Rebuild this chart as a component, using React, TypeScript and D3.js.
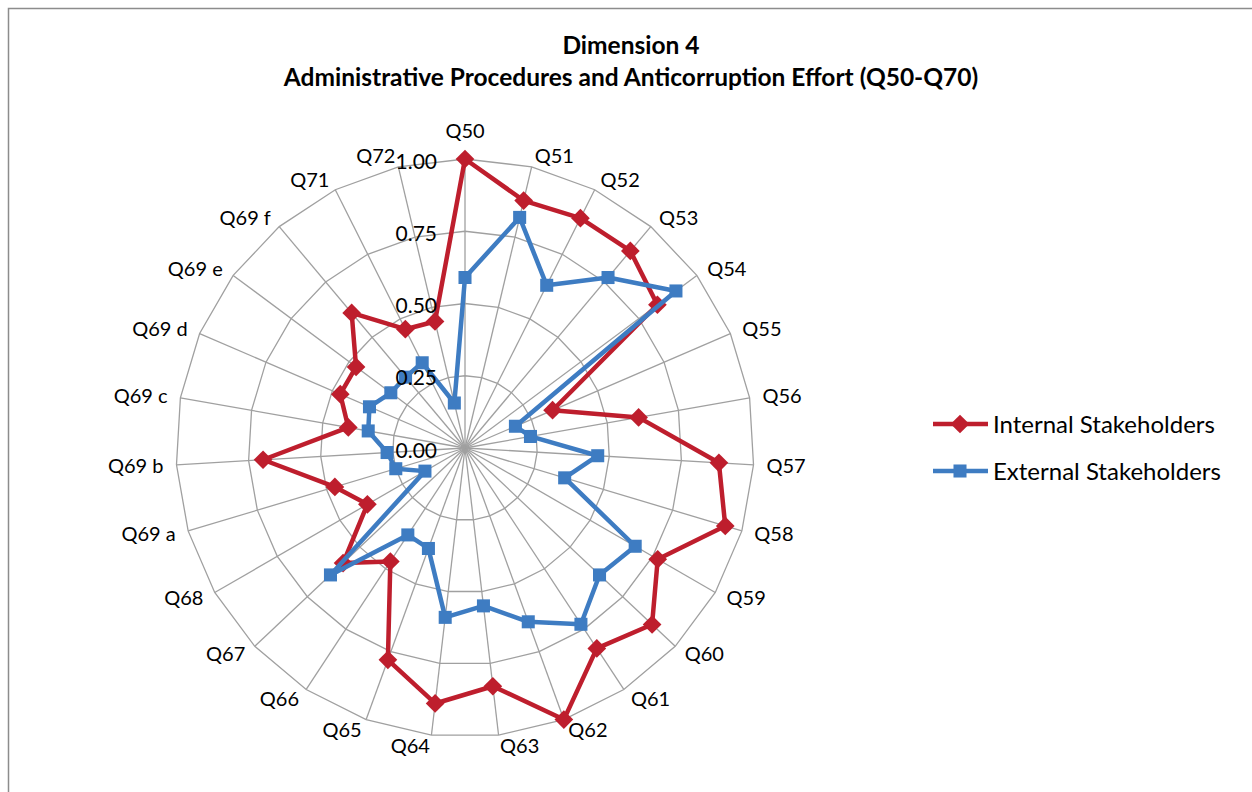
import React from "react";
import * as d3 from "d3";

const categories = [
  "Q50", "Q51", "Q52", "Q53", "Q54", "Q55", "Q56", "Q57", "Q58", "Q59",
  "Q60", "Q61", "Q62", "Q63", "Q64", "Q65", "Q66", "Q67", "Q68",
  "Q69 a", "Q69 b", "Q69 c", "Q69 d", "Q69 e", "Q69 f", "Q71", "Q72",
];

const internalValues = [
  1.0, 0.88, 0.89, 0.89, 0.83, 0.33, 0.61, 0.88, 0.94, 0.77,
  0.89, 0.83, 1.0, 0.83, 0.89, 0.78, 0.47, 0.58, 0.39,
  0.47, 0.7, 0.41, 0.47, 0.47, 0.61, 0.46, 0.45,
];

const externalValues = [
  0.59, 0.82, 0.63, 0.77, 0.91, 0.19, 0.23, 0.46, 0.36, 0.68,
  0.64, 0.73, 0.64, 0.55, 0.59, 0.37, 0.36, 0.64, 0.16,
  0.25, 0.27, 0.34, 0.36, 0.32, 0.32, 0.33, 0.16,
];

const tickValues = [0, 0.25, 0.5, 0.75, 1.0];
const tickLabels = ["0.00", "0.25", "0.50", "0.75", "1.00"];

const seriesNames = ["Internal Stakeholders", "External Stakeholders"];
const seriesColors = ["#BE1E2D", "#3E7CC2"];

const titleLines = [
  "Dimension 4",
  "Administrative Procedures and Anticorruption Effort (Q50-Q70)",
];

const W = 1252;
const H = 792;
const CX = 465;
const CY = 448;
const R = 289;
const FONT = "Lato, 'Open Sans', sans-serif";

export default function App() {
  const n = categories.length;
  const rScale = d3.scaleLinear().domain([0, 1]).range([0, R]);
  const angle = (i: number) => (i * 2 * Math.PI) / n;
  const pt = (i: number, v: number): [number, number] => {
    const a = angle(i);
    return [CX + rScale(v) * Math.sin(a), CY - rScale(v) * Math.cos(a)];
  };

  const ringPath = (v: number) => {
    const pts = categories.map((_, i) => pt(i, v));
    return d3.line()(pts.concat([pts[0]])) as string;
  };

  const radial = d3
    .lineRadial<number>()
    .angle((_, i) => angle(i))
    .radius((v) => rScale(v))
    .curve(d3.curveLinearClosed);

  const squarePath = d3.symbol(d3.symbolSquare, 170)() as string;
  const diamondPath = d3.symbol(d3.symbolSquare, 175)() as string;

  const marker = (s: number, x: number, y: number, key: string) =>
    s === 0 ? (
      <path key={key} d={diamondPath} transform={`translate(${x},${y}) rotate(45)`} fill={seriesColors[0]} />
    ) : (
      <path key={key} d={squarePath} transform={`translate(${x},${y})`} fill={seriesColors[1]} />
    );

  const labelFs = 20;
  const labels = categories.map((c, i) => {
    const a = angle(i);
    const s = Math.sin(a);
    const co = Math.cos(a);
    const [px, py] = pt(i, 1);
    let anchor = "middle";
    let x = px;
    let cyL = py - 11 * co;
    if (Math.abs(s) < 0.01) {
      cyL = py - 28 * co;
    } else {
      anchor = s > 0 ? "start" : "end";
      x = px + 13 * s;
    }
    return (
      <text key={c} x={x} y={cyL + 0.36 * labelFs} textAnchor={anchor} fontSize={labelFs}>
        {c}
      </text>
    );
  });

  const series = [internalValues, externalValues];
  const legendFs = 24;

  return (
    <svg
      width={W}
      height={H}
      style={{ position: "absolute", left: 0, top: 0, background: "#fff" }}
      fontFamily={FONT}
    >
      <rect x={8.5} y={8.5} width={W + 20} height={H + 20} fill="#fff" stroke="#8c8c8c" strokeWidth={1.5} />
      <g fontWeight="bold" fontSize={24.5} textAnchor="middle" fill="#000">
        <text x={631} y={54}>{titleLines[0]}</text>
        <text x={631} y={86}>{titleLines[1]}</text>
      </g>
      <g stroke="#a0a0a0" strokeWidth={1.3} fill="none">
        {categories.map((c, i) => {
          const [x, y] = pt(i, 1);
          return <line key={c} x1={CX} y1={CY} x2={x} y2={y} />;
        })}
        {tickValues.filter((v) => v > 0).map((v) => (
          <path key={v} d={ringPath(v)} />
        ))}
      </g>
      {series.map((vals, s) => (
        <g key={s}>
          <path
            d={radial(vals) as string}
            transform={`translate(${CX},${CY})`}
            fill="none"
            stroke={seriesColors[s]}
            strokeWidth={4.5}
            strokeLinejoin="round"
          />
          {vals.map((v, i) => {
            const [x, y] = pt(i, v);
            return marker(s, x, y, `${s}-${i}`);
          })}
        </g>
      ))}
      <g fontSize={labelFs} fill="#000">{labels}</g>
      <g fontSize={21} textAnchor="end" fill="#000">
        {tickValues.map((v, i) => (
          <text key={v} x={CX - 28} y={CY - rScale(v) + 2 + 0.36 * 21}>
            {tickLabels[i]}
          </text>
        ))}
      </g>
      <g fontSize={legendFs} fill="#000">
        {seriesNames.map((nm, s) => {
          const y = 424 + s * 47;
          return (
            <g key={nm}>
              <line x1={933} x2={988} y1={y} y2={y} stroke={seriesColors[s]} strokeWidth={4.5} />
              {marker(s, 960, y, `lg-${s}`)}
              <text x={993} y={y + 0.36 * legendFs}>{nm}</text>
            </g>
          );
        })}
      </g>
    </svg>
  );
}
